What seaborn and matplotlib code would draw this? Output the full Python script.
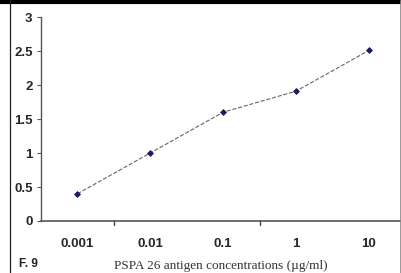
import numpy as np
import pandas as pd
import matplotlib
matplotlib.use('Agg')
import matplotlib.pyplot as plt
import seaborn as sns
from matplotlib.lines import Line2D

# data
concentrations = ['0.001', '0.01', '0.1', '1', '10']
absorbance = [0.40, 1.00, 1.60, 1.91, 2.51]
y_ticks = [0, 0.5, 1, 1.5, 2, 2.5, 3]

df = pd.DataFrame({'conc': concentrations, 'od': absorbance})

sns.set_style('white')
plt.rcParams['font.family'] = ['Liberation Sans', 'DejaVu Sans']

fig = plt.figure(figsize=(4.01, 2.73), dpi=100)
ax = fig.add_axes([0.102, 0.1905, 0.909, 0.747])

sns.pointplot(data=df, x='conc', y='od', order=concentrations, ax=ax,
              color='#1a1f5c', markers='D', linestyles='--',
              markersize=3, linewidth=0.8, errorbar=None)
# line itself is greyish
for ln in ax.lines:
    ln.set_color('#666666')
    ln.set_markerfacecolor('#1a1f5c')
    ln.set_markeredgecolor('#1a1f5c')

ax.set_xlim(-0.5, len(concentrations) - 0.5)
ax.set_ylim(0, 3)
ax.set_yticks(y_ticks)
ax.set_yticklabels(['0', '0.5', '1', '1.5', '2', '2.5', '3'],
                   fontsize=9.5, fontweight='bold')
ax.set_xticks(range(len(concentrations)))
ax.set_xticklabels(concentrations, fontsize=9.5, fontweight='bold')
ax.tick_params(axis='x', length=0, pad=12)
ax.tick_params(axis='y', length=3, width=0.8, color='#555555', pad=3, left=True)
# the scan only shows two small x ticks, on category boundaries
for b in [0.5, 2.5]:
    ax.plot([b, b], [0, -0.06], color='#444444', lw=1.0, clip_on=False)

for s in ['top', 'right']:
    ax.spines[s].set_visible(False)
ax.spines['left'].set_color('#555555')
ax.spines['bottom'].set_color('#555555')
ax.spines['left'].set_linewidth(1.0)
ax.spines['bottom'].set_linewidth(1.2)
ax.set_xlabel('')
ax.set_ylabel('')

fig.text(0.55, 0.004, 'PSPA 26 antigen concentrations (\u00b5g/ml)',
         ha='center', va='bottom', fontsize=9.5, family='Liberation Serif',
         color='#333333')
fig.text(0.048, 0.01, 'F. 9', ha='left', va='bottom', fontsize=8.5,
         fontweight='bold', color='#222222')

# scanned page frame
fig.add_artist(Line2D([0, 1], [0.993, 0.993], transform=fig.transFigure,
                      color='black', lw=3))
fig.add_artist(Line2D([0.024, 0.024], [0, 1], transform=fig.transFigure,
                      color='#222222', lw=0.9))
fig.add_artist(Line2D([0.998, 0.998], [0, 1], transform=fig.transFigure,
                      color='#888888', lw=0.6))

fig.savefig('out.png', dpi=100)
